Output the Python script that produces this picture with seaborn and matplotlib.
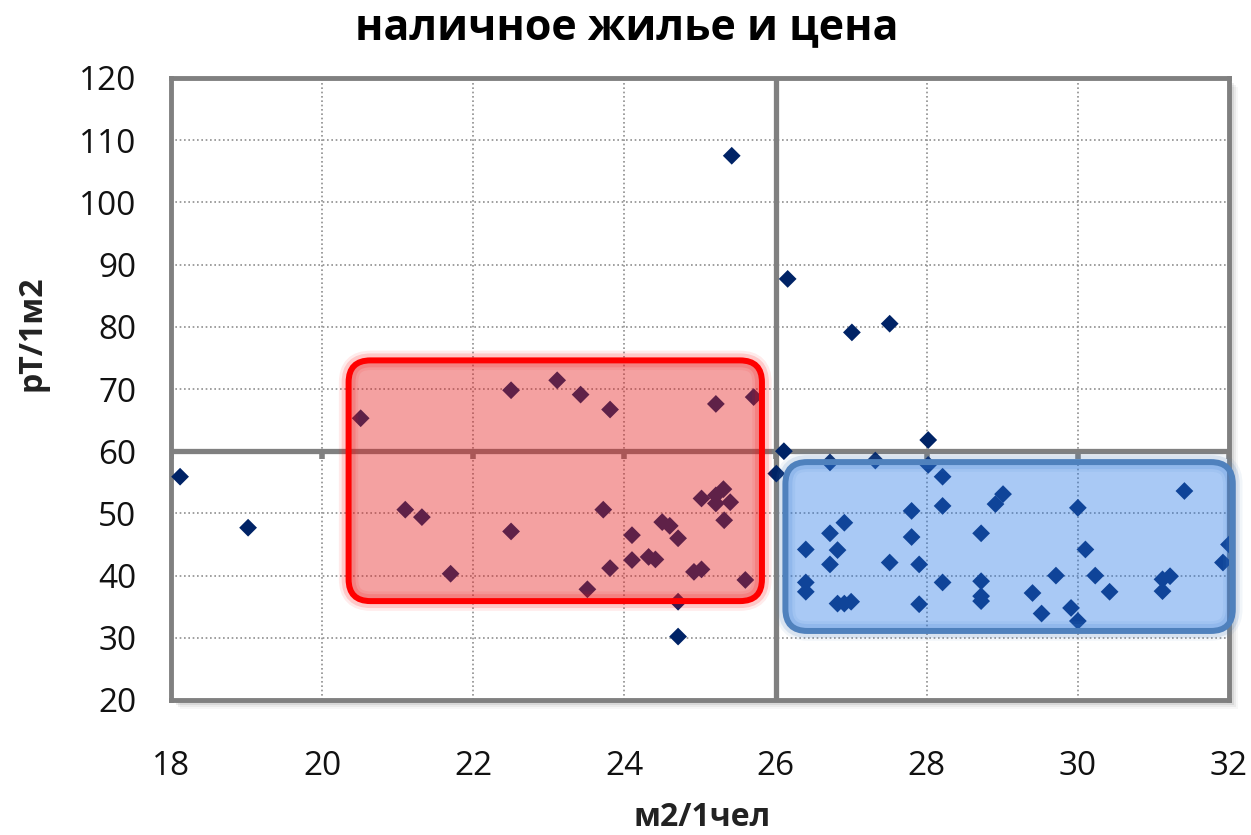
import matplotlib
matplotlib.use("Agg")
import matplotlib.pyplot as plt
from matplotlib.patches import FancyBboxPatch, Rectangle
import seaborn as sns
import pandas as pd

# ---------------- Data ----------------
area_per_person = [
    18.12, 19.02, 20.51, 21.10, 21.32, 21.70, 22.50, 22.50, 23.11, 23.42,
    23.81, 23.72, 23.81, 23.51, 24.10, 24.10, 24.32, 24.41, 24.50, 24.60,
    24.71, 24.71, 24.71, 24.92, 25.02, 25.02, 25.21, 25.31, 25.21, 25.40,
    25.32, 25.21, 25.71, 25.60, 26.11, 26.01, 25.42, 26.16, 27.01, 27.51,
    28.02, 26.72, 27.32, 28.02, 28.21, 28.21, 27.80, 27.80, 26.91, 26.72,
    26.40, 26.82, 26.72, 27.51, 27.90, 26.40, 26.40, 26.82, 26.91, 27.00,
    27.90, 28.21, 28.72, 28.72, 28.72, 28.72, 28.91, 29.01, 30.00, 30.10,
    29.71, 30.23, 29.40, 30.42, 29.52, 29.91, 30.00, 31.41, 32.00, 31.92,
    31.12, 31.22, 31.12,
]
price_per_m2 = [
    55.9, 47.7, 65.3, 50.6, 49.4, 40.3, 69.8, 47.1, 71.4, 69.1,
    66.7, 50.6, 41.2, 37.8, 46.5, 42.5, 43.0, 42.6, 48.6, 48.0,
    46.0, 35.8, 30.2, 40.6, 41.0, 52.4, 52.9, 53.9, 51.6, 51.8,
    48.9, 67.6, 68.7, 39.3, 60.0, 56.4, 107.5, 87.7, 79.1, 80.5,
    61.8, 58.2, 58.5, 57.8, 55.9, 51.2, 50.4, 46.2, 48.5, 46.8,
    44.2, 44.1, 41.8, 42.1, 41.8, 38.9, 37.4, 35.5, 35.5, 35.8,
    35.4, 38.9, 46.8, 39.1, 36.7, 35.9, 51.5, 53.1, 50.9, 44.2,
    40.0, 40.0, 37.2, 37.4, 33.9, 34.8, 32.7, 53.6, 45.0, 42.1,
    39.4, 39.9, 37.5,
]

x_ticks = [18, 20, 22, 24, 26, 28, 30, 32]
y_ticks = [20, 30, 40, 50, 60, 70, 80, 90, 100, 110, 120]
split_x = 26
split_y = 60

# zones: x0, y0, x1, y1
red_zone = [20.35, 35.9, 25.82, 74.6]
blue_zone = [26.13, 31.1, 32.05, 58.25]

title = "наличное жилье и цена"
x_label = "м2/1чел"
y_label = "рТ/1м2"

df = pd.DataFrame({"area": area_per_person, "price": price_per_m2})

# ---------------- Style ----------------
sns.set_theme(style="white")
plt.rcParams["font.family"] = ["Open Sans", "DejaVu Sans"]

GRAY = "#808080"
W, H = 1251, 835
fig = plt.figure(figsize=(W / 100, H / 100), dpi=100)
ax_l, ax_r, ax_t, ax_b = 171, 1229, 78, 700
ax = fig.add_axes([ax_l / W, 1 - ax_b / H, (ax_r - ax_l) / W, (ax_b - ax_t) / H])

# soft shadow behind the frame
for i, a in enumerate([0.10, 0.07, 0.05, 0.03]):
    off = 3 + i * 2
    fig.patches.append(Rectangle(
        ((ax_l + off) / W, 1 - (ax_b + off) / H),
        (ax_r - ax_l) / W, (ax_b - ax_t) / H,
        transform=fig.transFigure, facecolor="black", edgecolor="none",
        alpha=a, zorder=-1))

sns.scatterplot(data=df, x="area", y="price", marker="D", s=82,
                color="#002366", edgecolor="none", ax=ax, zorder=3)

ax.set_xlim(x_ticks[0], x_ticks[-1])
ax.set_ylim(y_ticks[0], y_ticks[-1])
ax.set_xticks(x_ticks)
ax.set_yticks(y_ticks)
ax.grid(True, color="#8f8f8f", linestyle=(0, (1, 1.6)), linewidth=1.2)
ax.tick_params(axis="both", length=0, labelsize=24, colors="#111111")
ax.tick_params(axis="x", pad=36)
ax.tick_params(axis="y", pad=25)
ax.set_xlabel("")
ax.set_ylabel("")
for sp in ax.spines.values():
    sp.set_color(GRAY)
    sp.set_linewidth(3.5)
    sp.set_visible(True)

# axis cross lines
ax.axvline(split_x, color=GRAY, lw=3.8, zorder=2)
ax.axhline(split_y, color=GRAY, lw=3.8, zorder=2)
ax.vlines(x_ticks, split_y - 1.3, split_y, color=GRAY, lw=4, zorder=2)

# ---------------- Zones ----------------
px_x = (ax_r - ax_l) / (x_ticks[-1] - x_ticks[0])
px_y = (ax_b - ax_t) / (y_ticks[-1] - y_ticks[0])
aspect = px_x / px_y


def zone(box, face, edge, falpha):
    x0, y0, x1, y1 = box
    for lw, a in [(14, 0.08), (10, 0.15)]:
        ax.add_patch(FancyBboxPatch(
            (x0, y0), x1 - x0, y1 - y0,
            boxstyle="round,pad=0,rounding_size=0.29", mutation_aspect=aspect,
            facecolor="none", edgecolor=edge, lw=lw, alpha=a,
            zorder=4, clip_on=False))
    ax.add_patch(FancyBboxPatch(
        (x0, y0), x1 - x0, y1 - y0,
        boxstyle="round,pad=0,rounding_size=0.29", mutation_aspect=aspect,
        facecolor=face, edgecolor="none", alpha=falpha, zorder=4, clip_on=False))
    ax.add_patch(FancyBboxPatch(
        (x0, y0), x1 - x0, y1 - y0,
        boxstyle="round,pad=0,rounding_size=0.29", mutation_aspect=aspect,
        facecolor="none", edgecolor=edge, lw=4.3, zorder=5, clip_on=False))


zone(red_zone, "#e52020", "#ff0000", 0.42)
zone(blue_zone, "#2878e6", "#4f81bd", 0.40)

# ---------------- Texts ----------------
fig.text(627 / W, 1 - 28 / H, title, ha="center", va="center",
         fontsize=31, fontweight="bold", color="black")
fig.text(702 / W, 1 - 818 / H, x_label, ha="center", va="center",
         fontsize=23, fontweight="bold", color="#222222")
fig.text(32 / W, 1 - 333 / H, y_label, ha="center", va="center",
         rotation=90, fontsize=23, fontweight="bold", color="#222222")

plt.savefig("out.png", dpi=100)
plt.close()
